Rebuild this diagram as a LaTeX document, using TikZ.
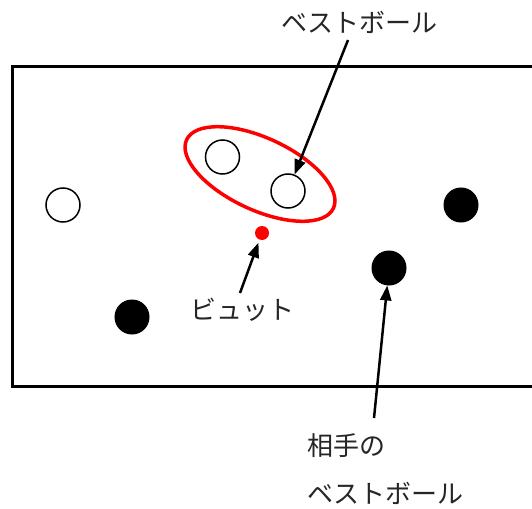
\documentclass[tikz,border=0pt]{standalone}
\usepackage{fontspec}
\newfontfamily\jp{Noto Sans CJK JP}
\usetikzlibrary{arrows.meta}
\tikzset{
  wball/.style={circle,draw=black,line width=1.5pt,fill=white,minimum size=34pt,inner sep=0pt},
  bball/.style={circle,draw=black,fill=black,line width=1pt,minimum size=34pt,inner sep=0pt},
  cue/.style={circle,fill=red,minimum size=14pt,inner sep=0pt},
  lbl/.style={font=\jp\fontsize{26}{26}\selectfont,inner sep=0pt,text=black!85},
  pointer/.style={line width=2.5pt,-{Triangle[length=15pt,width=11pt]}},
}
\begin{document}
\begin{tikzpicture}[x=1pt,y=-1pt]
\useasboundingbox (0,0) rectangle (532,508);
\clip (0,0) rectangle (532,508);
\fill[white] (0,0) rectangle (532,508);
\draw[line width=3pt] (12,67) rectangle (560,386);
\node[wball] (w1) at (63,205) {};
\node[wball] (w2) at (222.5,157) {};
\node[wball] (w3) at (288,191) {};
\node[bball] (b1) at (461,205) {};
\node[bball] (b2) at (389,268) {};
\node[bball] (b3) at (132,317) {};
\node[cue] (c) at (262,233) {};
\draw[red,line width=3.5pt,rotate around={-25:(260,174)}] (260,174) ellipse [x radius=81,y radius=36];
\node[lbl] (t1) at (359.5,22) {ベストボール};
\node[lbl] (t2) at (242.5,310) {ビュット};
\node[lbl,anchor=west] (t3) at (307,446) {相手の};
\node[lbl,anchor=west] (t4) at (307,493) {ベストボール};
\coordinate (a1) at (348,40);
\coordinate (a2) at (240,293);
\coordinate (a3) at (374,418);
\draw[pointer] (a1) -- (w3);
\draw[pointer,shorten >=3pt] (a2) -- (c);
\draw[pointer] (a3) -- (b2);
\end{tikzpicture}
\end{document}
